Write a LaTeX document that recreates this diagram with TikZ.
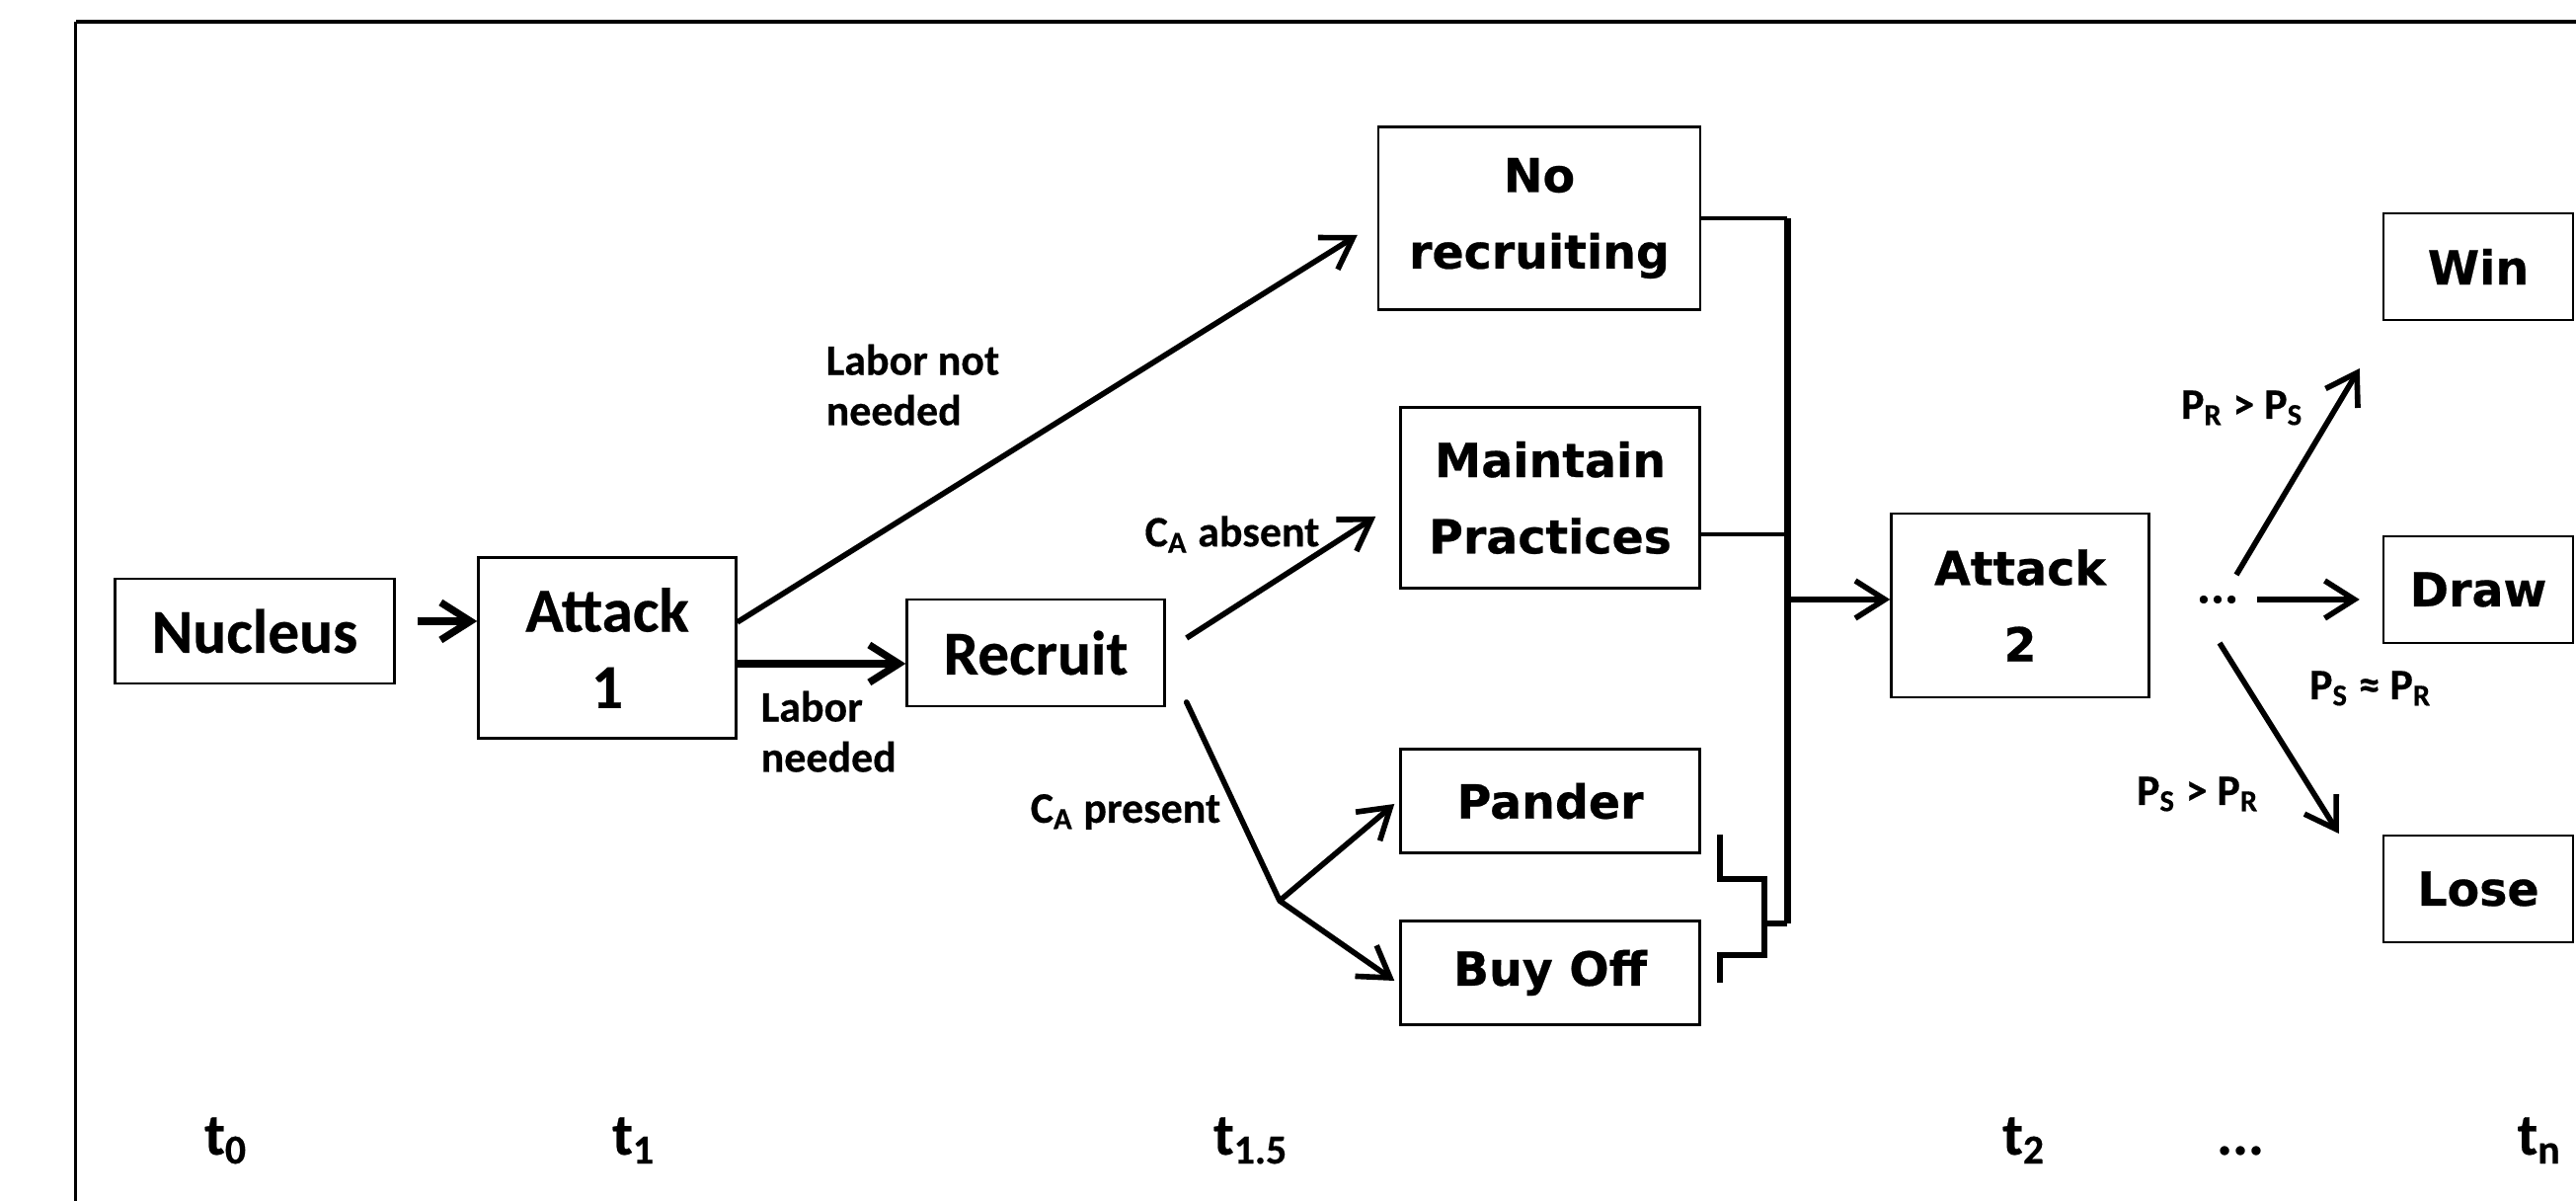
\documentclass[tikz,border=0pt]{standalone}
\usepackage{fontspec}
\usetikzlibrary{arrows.meta,calc}
\newfontfamily\calib{Carlito}[BoldFeatures={FakeBold=0.4}]
\newfontfamily\verd{DejaVu Sans}[BoldFeatures={FakeBold=0.5}]

\begin{document}
\begin{tikzpicture}[
    box/.style={draw, line width=0.7pt, inner sep=0pt, align=center},
    cbox/.style={box, font=\calib\bfseries\fontsize{18}{22}\selectfont},
    vbox/.style={box, font=\verd\bfseries\fontsize{13.5}{22}\selectfont},
    lbl/.style={font=\calib\bfseries\fontsize{12.5}{14.5}\selectfont, align=left, inner sep=0pt},
    tlbl/.style={font=\calib\bfseries\fontsize{17}{20}\selectfont, anchor=base, inner sep=0pt},
    arr/.style={line width=1.6pt, -{Straight Barb[length=3mm,width=3.8mm]}},
    ]
    \useasboundingbox (0,0) rectangle (26.09,12.16);
    \fill[white] (0,0) rectangle (26.09,12.16);
    \draw[line width=0.8pt] (0.765,-1) -- (0.765,11.94);
    \draw[line width=1.4pt] (0.765,11.94) -- (27,11.94);

    \node[cbox, minimum width=2.83cm, minimum height=1.06cm] (nucleus) at (2.58,5.77) {Nucleus};
    \node[cbox, minimum width=2.61cm, minimum height=1.83cm] (attackA) at (6.15,5.60) {Attack\\1};
    \node[cbox, minimum width=2.61cm, minimum height=1.08cm] (recruit) at (10.49,5.55) {Recruit};

    \node[vbox, minimum width=3.26cm, minimum height=1.85cm] (norec) at (15.59,9.95) {No\\recruiting};
    \node[vbox, minimum width=3.03cm, minimum height=1.83cm] (maintain) at (15.70,7.12) {Maintain\\Practices};
    \node[vbox, minimum width=3.03cm, minimum height=1.05cm] (pander) at (15.70,4.05) {Pander};
    \node[vbox, minimum width=3.03cm, minimum height=1.05cm] (buyoff) at (15.70,2.31) {Buy Off};

    \node[vbox, minimum width=2.61cm, minimum height=1.86cm] (attackB) at (20.46,6.03) {Attack\\2};
    \node[font=\calib\bfseries\fontsize{15}{16}\selectfont, inner sep=0pt] (dots) at (22.46,6.09) {...};
    \node[vbox, minimum width=1.92cm, minimum height=1.08cm] (win) at (25.10,9.46) {Win};
    \node[vbox, minimum width=1.92cm, minimum height=1.08cm] (even) at (25.10,6.19) {Draw};
    \node[vbox, minimum width=1.92cm, minimum height=1.08cm] (lose) at (25.10,3.16) {Lose};

    \draw[arr, line width=2.1pt] ($(nucleus.east)+(0.22,0.1)$) coordinate (n1) -- (n1 -| attackA.west);
    \draw[arr, line width=2.1pt] ([yshift=-1.6mm]attackA.east) coordinate (a1) -- (a1 -| recruit.west);
    \draw[arr] ([yshift=2.6mm]attackA.east) -- ([shift={(-0.2,-0.17)}]norec.west);
    \draw[arr] ([shift={(0.21,0.15)}]recruit.east) -- ([shift={(-0.24,-0.19)}]maintain.west);
    \draw[line width=1.6pt, line cap=round] ([shift={(0.21,-0.5)}]recruit.east) -- (12.96,3.04) coordinate (split);
    \draw[arr] (split) -- ([shift={(-0.05,-0.03)}]pander.west);
    \draw[arr] (split) -- ([shift={(-0.05,-0.08)}]buyoff.west);

    \node[lbl, anchor=north west] (notneeded) at (8.36,8.68) {Labor not\\needed};
    \node[lbl, anchor=north west] (needed) at (7.70,5.17) {Labor\\needed};
    \node[lbl] (absent) at (12.48,6.75) {C\textsubscript{A} absent};
    \node[lbl] (present) at (11.40,3.94) {C\textsubscript{A} present};

    \draw[line width=1.3pt] (norec.east) -- ++(0.87,0) coordinate (top);
    \draw[line width=2pt] (top) -- (top |- 0,2.81) coordinate (bot);
    \draw[line width=1.3pt] ([yshift=-3.7mm]maintain.east) coordinate (m1) -- (m1 -| top);
    \draw[arr] (top |- 0,6.09) coordinate (join) -- (join -| attackB.west);
    \draw[line width=1.6pt] (17.42,3.71) -- (17.42,3.26) -- (17.87,3.26) -- (17.87,2.49) -- (17.42,2.49) -- (17.42,2.21);
    \draw[line width=1.6pt] (17.87,2.81) -- (bot);

    \draw[arr] ([shift={(0.19,0.25)}]dots.center) -- ([shift={(-0.23,-1.03)}]win.west);
    \draw[arr] ([xshift=4mm]dots.center) -- ([shift={(-0.23,-0.10)}]even.west);
    \draw[arr] ([shift={(0.02,-0.44)}]dots.center) -- ([shift={(-0.44,0.56)}]lose.west);
    \node[lbl] (rs) at (22.71,8.03) {P\textsubscript{R} > P\textsubscript{S}};
    \node[lbl] (sr) at (24.01,5.19) {P\textsubscript{S} ≈ P\textsubscript{R}};
    \node[lbl] (sgr) at (22.26,4.12) {P\textsubscript{S} > P\textsubscript{R}};

    \node[tlbl] (tzero) at (2.29,0.47) {t\textsubscript{0}};
    \node[tlbl] (tone) at (6.42,0.47) {t\textsubscript{1}};
    \node[tlbl] (thalf) at (12.67,0.47) {t\textsubscript{1.5}};
    \node[tlbl] (ttwo) at (20.50,0.47) {t\textsubscript{2}};
    \node[tlbl] (tdots) at (22.69,0.47) {...};
    \node[tlbl] (tn) at (25.72,0.47) {t\textsubscript{n}};
\end{tikzpicture}
\end{document}
